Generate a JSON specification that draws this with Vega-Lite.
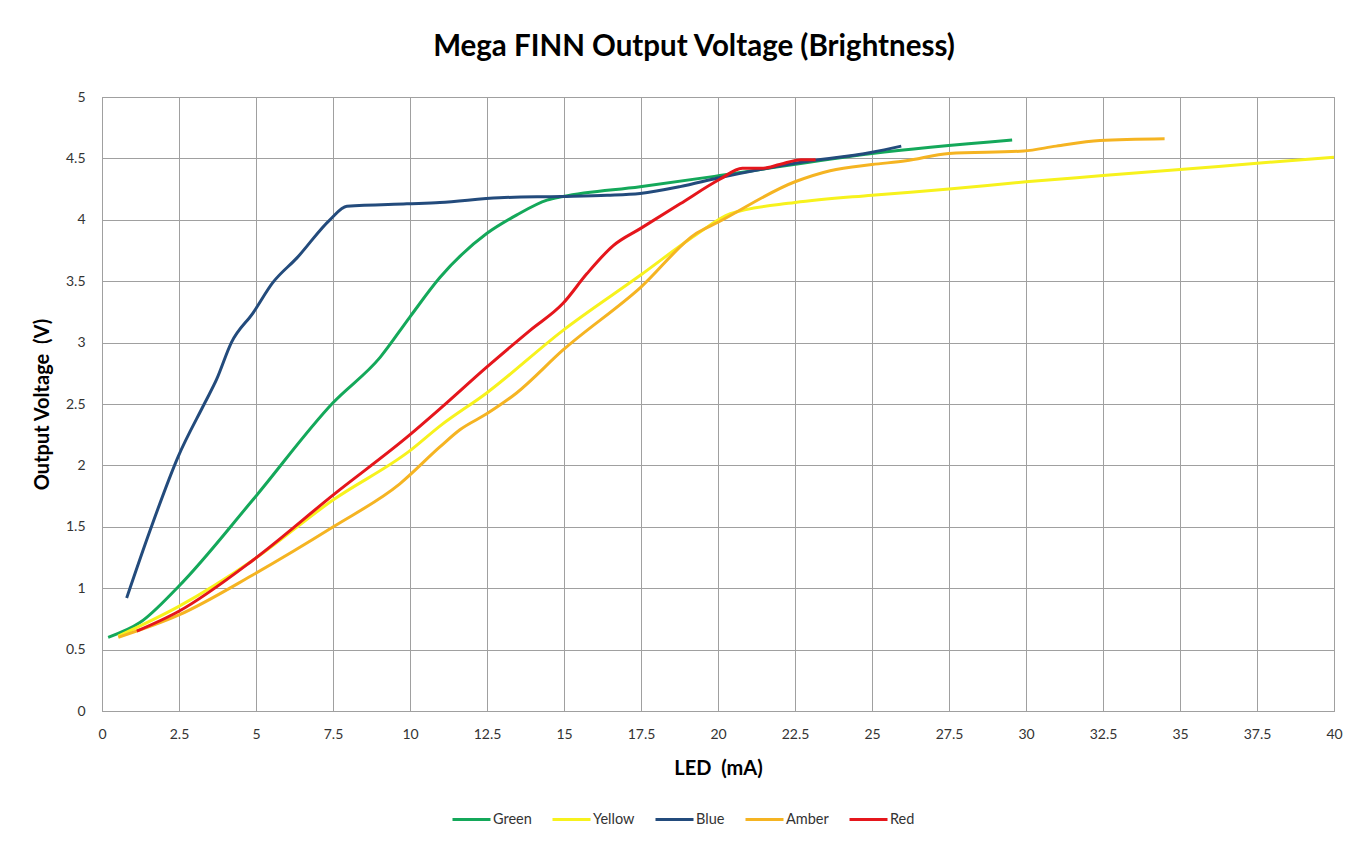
{
  "$schema": "https://vega.github.io/schema/vega-lite/v6.json",
  "width": 1232,
  "height": 614,
  "autosize": "none",
  "padding": {"left": 102, "top": 97, "right": 30, "bottom": 135},
  "background": "white",
  "title": {
    "text": "Mega FINN Output Voltage (Brightness)",
    "font": "Lato",
    "fontSize": 29.5,
    "fontWeight": "bold",
    "color": "#000000",
    "anchor": "middle",
    "offset": 28,
    "dx": -24
  },
  "config": {
    "view": {"stroke": "#a0a0a0", "strokeWidth": 1},
    "axis": {
      "labelFont": "Lato",
      "labelFontSize": 14,
      "labelColor": "#333333",
      "titleFont": "Lato",
      "titleFontSize": 20,
      "titleFontWeight": "bold",
      "titleColor": "#000000",
      "gridColor": "#a0a0a0",
      "gridOpacity": 1,
      "domainColor": "#a0a0a0",
      "tickSize": 0
    }
  },
  "datasets": {
    "curves": [
      {"series": "Green", "mA": 0.2, "V": 0.60},
      {"series": "Green", "mA": 1.23, "V": 0.72},
      {"series": "Green", "mA": 2.47, "V": 1.01},
      {"series": "Green", "mA": 4.9, "V": 1.72},
      {"series": "Green", "mA": 7.5, "V": 2.51},
      {"series": "Green", "mA": 9.03, "V": 2.88},
      {"series": "Green", "mA": 10.0, "V": 3.21},
      {"series": "Green", "mA": 10.97, "V": 3.53},
      {"series": "Green", "mA": 12.5, "V": 3.89},
      {"series": "Green", "mA": 13.47, "V": 4.04},
      {"series": "Green", "mA": 14.45, "V": 4.16},
      {"series": "Green", "mA": 14.97, "V": 4.19},
      {"series": "Green", "mA": 17.47, "V": 4.27},
      {"series": "Green", "mA": 20.06, "V": 4.36},
      {"series": "Green", "mA": 25.0, "V": 4.54},
      {"series": "Green", "mA": 29.55, "V": 4.65},

      {"series": "Yellow", "mA": 0.53, "V": 0.61},
      {"series": "Yellow", "mA": 2.48, "V": 0.85},
      {"series": "Yellow", "mA": 4.91, "V": 1.23},
      {"series": "Yellow", "mA": 7.51, "V": 1.72},
      {"series": "Yellow", "mA": 10.0, "V": 2.12},
      {"series": "Yellow", "mA": 10.97, "V": 2.32},
      {"series": "Yellow", "mA": 12.49, "V": 2.59},
      {"series": "Yellow", "mA": 14.97, "V": 3.10},
      {"series": "Yellow", "mA": 17.49, "V": 3.55},
      {"series": "Yellow", "mA": 19.3, "V": 3.88},
      {"series": "Yellow", "mA": 20.4, "V": 4.05},
      {"series": "Yellow", "mA": 22.5, "V": 4.14},
      {"series": "Yellow", "mA": 25.0, "V": 4.20},
      {"series": "Yellow", "mA": 27.5, "V": 4.25},
      {"series": "Yellow", "mA": 30.0, "V": 4.31},
      {"series": "Yellow", "mA": 32.5, "V": 4.36},
      {"series": "Yellow", "mA": 35.0, "V": 4.41},
      {"series": "Yellow", "mA": 37.5, "V": 4.46},
      {"series": "Yellow", "mA": 40.0, "V": 4.51},

      {"series": "Blue", "mA": 0.8, "V": 0.92},
      {"series": "Blue", "mA": 1.56, "V": 1.47},
      {"series": "Blue", "mA": 2.47, "V": 2.07},
      {"series": "Blue", "mA": 3.34, "V": 2.51},
      {"series": "Blue", "mA": 3.72, "V": 2.70},
      {"series": "Blue", "mA": 4.2, "V": 3.0},
      {"series": "Blue", "mA": 4.9, "V": 3.24},
      {"series": "Blue", "mA": 5.55, "V": 3.49},
      {"series": "Blue", "mA": 6.33, "V": 3.69},
      {"series": "Blue", "mA": 7.4, "V": 4.0},
      {"series": "Blue", "mA": 7.95, "V": 4.11},
      {"series": "Blue", "mA": 9.9, "V": 4.13},
      {"series": "Blue", "mA": 10.97, "V": 4.14},
      {"series": "Blue", "mA": 12.9, "V": 4.18},
      {"series": "Blue", "mA": 14.9, "V": 4.19},
      {"series": "Blue", "mA": 16.4, "V": 4.20},
      {"series": "Blue", "mA": 17.47, "V": 4.215},
      {"series": "Blue", "mA": 18.77, "V": 4.27},
      {"series": "Blue", "mA": 20.0, "V": 4.34},
      {"series": "Blue", "mA": 22.5, "V": 4.46},
      {"series": "Blue", "mA": 25.0, "V": 4.55},
      {"series": "Blue", "mA": 25.95, "V": 4.60},

      {"series": "Amber", "mA": 0.53, "V": 0.60},
      {"series": "Amber", "mA": 2.48, "V": 0.78},
      {"series": "Amber", "mA": 4.91, "V": 1.11},
      {"series": "Amber", "mA": 7.51, "V": 1.50},
      {"series": "Amber", "mA": 9.67, "V": 1.85},
      {"series": "Amber", "mA": 10.97, "V": 2.15},
      {"series": "Amber", "mA": 11.62, "V": 2.29},
      {"series": "Amber", "mA": 12.49, "V": 2.42},
      {"series": "Amber", "mA": 13.46, "V": 2.59},
      {"series": "Amber", "mA": 14.97, "V": 2.94},
      {"series": "Amber", "mA": 17.49, "V": 3.45},
      {"series": "Amber", "mA": 19.3, "V": 3.89},
      {"series": "Amber", "mA": 20.0, "V": 3.98},
      {"series": "Amber", "mA": 22.5, "V": 4.31},
      {"series": "Amber", "mA": 23.64, "V": 4.40},
      {"series": "Amber", "mA": 25.0, "V": 4.45},
      {"series": "Amber", "mA": 26.1, "V": 4.48},
      {"series": "Amber", "mA": 27.5, "V": 4.54},
      {"series": "Amber", "mA": 29.93, "V": 4.56},
      {"series": "Amber", "mA": 30.98, "V": 4.60},
      {"series": "Amber", "mA": 32.4, "V": 4.645},
      {"series": "Amber", "mA": 34.5, "V": 4.66},

      {"series": "Red", "mA": 1.13, "V": 0.65},
      {"series": "Red", "mA": 2.48, "V": 0.81},
      {"series": "Red", "mA": 4.91, "V": 1.23},
      {"series": "Red", "mA": 7.51, "V": 1.76},
      {"series": "Red", "mA": 10.0, "V": 2.25},
      {"series": "Red", "mA": 10.97, "V": 2.46},
      {"series": "Red", "mA": 12.49, "V": 2.80},
      {"series": "Red", "mA": 13.9, "V": 3.10},
      {"series": "Red", "mA": 14.97, "V": 3.32},
      {"series": "Red", "mA": 15.74, "V": 3.56},
      {"series": "Red", "mA": 16.6, "V": 3.79},
      {"series": "Red", "mA": 17.49, "V": 3.93},
      {"series": "Red", "mA": 18.77, "V": 4.13},
      {"series": "Red", "mA": 20.06, "V": 4.33},
      {"series": "Red", "mA": 20.79, "V": 4.42},
      {"series": "Red", "mA": 21.47, "V": 4.42},
      {"series": "Red", "mA": 22.0, "V": 4.45},
      {"series": "Red", "mA": 22.7, "V": 4.49},
      {"series": "Red", "mA": 23.17, "V": 4.49}
    ]
  },
  "data": {"name": "curves"},
  "mark": {"type": "line", "interpolate": "monotone", "strokeWidth": 3, "clip": true},
  "encoding": {
    "x": {
      "field": "mA",
      "type": "quantitative",
      "scale": {"domain": [0, 40], "nice": false},
      "axis": {
        "title": "LED \u00a0(mA)",
        "values": [0, 2.5, 5, 7.5, 10, 12.5, 15, 17.5, 20, 22.5, 25, 27.5, 30, 32.5, 35, 37.5, 40],
        "format": ".1~f",
        "labelPadding": 16,
        "titlePadding": 17,
        "labelFlush": false
      }
    },
    "y": {
      "field": "V",
      "type": "quantitative",
      "scale": {"domain": [0, 5], "nice": false},
      "axis": {
        "title": "Output Voltage \u00a0(V)",
        "values": [0, 0.5, 1, 1.5, 2, 2.5, 3, 3.5, 4, 4.5, 5],
        "format": ".1~f",
        "labelPadding": 17,
        "titlePadding": 13,
        "labelFlush": false
      }
    },
    "color": {
      "field": "series",
      "type": "nominal",
      "sort": null,
      "scale": {
        "domain": ["Green", "Yellow", "Blue", "Amber", "Red"],
        "range": ["#14a85a", "#f7f21d", "#234b7c", "#f5b422", "#e5161c"]
      },
      "legend": {
        "title": null,
        "orient": "none",
        "direction": "horizontal",
        "columns": 5,
        "legendX": 349,
        "legendY": 702,
        "symbolType": "stroke",
        "symbolStrokeWidth": 3,
        "symbolSize": 1444,
        "labelFont": "Lato",
        "labelFontSize": 14.5,
        "labelColor": "#333333",
        "labelOffset": 1,
        "columnPadding": 14
      }
    },
    "order": {"field": "mA", "type": "quantitative"}
  }
}
